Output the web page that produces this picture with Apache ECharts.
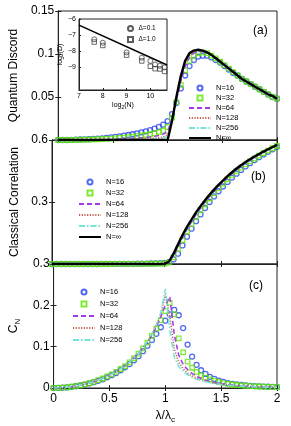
<!DOCTYPE html>
<html><head><meta charset="utf-8">
<script src="https://cdn.jsdelivr.net/npm/echarts@6/dist/echarts.min.js"></script>
<style>html,body{margin:0;padding:0;background:#fff}#c{width:291px;height:426px}</style>
</head><body><div id="c"></div>
<script>
// shared abscissa lambda/lambda_c
const lam = [0,0.04,0.08,0.12,0.16,0.2,0.24,0.28,0.32,0.36,0.4,0.44,0.48,0.52,0.56,0.6,0.64,0.68,0.72,0.76,0.8,0.84,0.88,0.92,0.96,1.0,1.04,1.08,1.12,1.16,1.2,1.24,1.28,1.32,1.36,1.4,1.44,1.48,1.52,1.56,1.6,1.64,1.68,1.72,1.76,1.8,1.84,1.88,1.92,1.96,2.0];
const names = ['N=16','N=32','N=64','N=128','N=256','N=\u221e'];

// (a) quantum discord
const qd16 = [0,0,0,0.0002,0.0004,0.0006,0.0008,0.001,0.0013,0.0016,0.002,0.0025,0.003,0.0036,0.0043,0.005,0.0058,0.0067,0.0077,0.0088,0.01,0.0115,0.0132,0.0152,0.0178,0.022,0.03,0.043,0.06,0.075,0.086,0.093,0.097,0.098,0.098,0.096,0.093,0.09,0.086,0.082,0.078,0.075,0.071,0.068,0.065,0.062,0.059,0.056,0.053,0.05,0.048];
const qd32 = [0,0,0,0,0.0002,0.0003,0.0004,0.0005,0.0007,0.0009,0.0011,0.0014,0.0017,0.002,0.0024,0.0028,0.0033,0.0038,0.0044,0.005,0.0058,0.0067,0.0078,0.0092,0.011,0.015,0.026,0.044,0.064,0.081,0.092,0.098,0.101,0.102,0.101,0.098,0.095,0.091,0.087,0.083,0.079,0.075,0.071,0.068,0.065,0.062,0.059,0.056,0.053,0.05,0.048];
const qd64 = [0,0,0,0,0,0.0001,0.0002,0.0002,0.0003,0.0004,0.0005,0.0006,0.0008,0.001,0.0012,0.0014,0.0016,0.0019,0.0022,0.0026,0.003,0.0035,0.0042,0.0052,0.0068,0.01,0.024,0.046,0.068,0.086,0.096,0.101,0.103,0.103,0.102,0.099,0.095,0.091,0.087,0.083,0.079,0.075,0.071,0.068,0.065,0.062,0.059,0.056,0.053,0.051,0.048];
const qd128 = [0,0,0,0,0,0,0.0001,0.0001,0.0001,0.0002,0.0002,0.0003,0.0004,0.0005,0.0006,0.0007,0.0008,0.0009,0.0011,0.0013,0.0015,0.0018,0.0021,0.0026,0.0036,0.0065,0.023,0.048,0.071,0.089,0.098,0.103,0.104,0.104,0.102,0.099,0.095,0.091,0.087,0.083,0.079,0.075,0.071,0.068,0.065,0.062,0.059,0.056,0.053,0.051,0.048];
const qd256 = [0,0,0,0,0,0,0,0,0,0.0001,0.0001,0.0001,0.0002,0.0002,0.0003,0.0003,0.0004,0.0005,0.0005,0.0006,0.0007,0.0009,0.0011,0.0013,0.0019,0.0042,0.022,0.049,0.073,0.091,0.1,0.104,0.105,0.104,0.102,0.099,0.095,0.091,0.087,0.083,0.079,0.075,0.071,0.068,0.065,0.062,0.059,0.056,0.053,0.051,0.048];
const qdInf = [0,0,0,0,0,0,0,0,0,0,0,0,0,0,0,0,0,0,0,0,0,0,0,0,0,0,0.022,0.05,0.074,0.092,0.101,0.104,0.105,0.104,0.102,0.099,0.095,0.091,0.087,0.083,0.079,0.075,0.071,0.068,0.065,0.062,0.059,0.056,0.053,0.051,0.048];

// (b) classical correlation
const cc16 = [0,0,0,0,0,0,0,0,0,0.0001,0.0001,0.0002,0.0002,0.0003,0.0004,0.0005,0.0006,0.0008,0.001,0.0012,0.0015,0.0019,0.0024,0.003,0.0039,0.005,0.009,0.022,0.05,0.09,0.132,0.171,0.207,0.24,0.271,0.3,0.327,0.352,0.375,0.397,0.418,0.437,0.455,0.472,0.488,0.503,0.517,0.53,0.543,0.555,0.567];
const cc32 = [0,0,0,0,0,0,0,0,0,0,0,0.0001,0.0001,0.0001,0.0002,0.0002,0.0003,0.0004,0.0005,0.0006,0.0007,0.0009,0.0011,0.0014,0.0018,0.0025,0.008,0.032,0.072,0.115,0.156,0.193,0.228,0.26,0.289,0.317,0.343,0.367,0.389,0.41,0.43,0.449,0.466,0.482,0.497,0.511,0.524,0.537,0.549,0.56,0.571];
const cc64 = [0,0,0,0,0,0,0,0,0,0,0,0,0,0.0001,0.0001,0.0001,0.0002,0.0002,0.0002,0.0003,0.0004,0.0005,0.0006,0.0007,0.001,0.0015,0.009,0.04,0.083,0.127,0.168,0.204,0.239,0.27,0.298,0.326,0.351,0.375,0.397,0.418,0.437,0.455,0.472,0.488,0.502,0.516,0.528,0.54,0.552,0.563,0.574];
const cc128 = [0,0,0,0,0,0,0,0,0,0,0,0,0,0,0,0,0.0001,0.0001,0.0001,0.0002,0.0002,0.0002,0.0003,0.0004,0.0006,0.001,0.01,0.045,0.089,0.134,0.174,0.21,0.245,0.275,0.303,0.331,0.356,0.379,0.401,0.422,0.441,0.459,0.475,0.491,0.505,0.518,0.53,0.542,0.554,0.565,0.575];
const cc256 = [0,0,0,0,0,0,0,0,0,0,0,0,0,0,0,0,0,0,0.0001,0.0001,0.0001,0.0001,0.0002,0.0002,0.0003,0.0008,0.011,0.048,0.092,0.137,0.177,0.213,0.248,0.278,0.306,0.333,0.358,0.381,0.403,0.424,0.443,0.461,0.477,0.492,0.506,0.519,0.531,0.543,0.555,0.566,0.576];
const ccInf = [0,0,0,0,0,0,0,0,0,0,0,0,0,0,0,0,0,0,0,0,0,0,0,0,0,0,0.012,0.05,0.095,0.14,0.18,0.215,0.25,0.28,0.308,0.335,0.36,0.383,0.404,0.425,0.444,0.462,0.478,0.493,0.507,0.52,0.532,0.544,0.555,0.566,0.576];

// (c) rescaled concurrence C_N
const cn16 = [0,0.0002,0.0006,0.0014,0.0028,0.0042,0.006,0.0083,0.011,0.014,0.0175,0.021,0.026,0.031,0.036,0.043,0.05,0.058,0.067,0.077,0.089,0.102,0.116,0.131,0.147,0.163,0.178,0.189,0.176,0.145,0.105,0.076,0.056,0.043,0.034,0.027,0.022,0.018,0.015,0.012,0.01,0.0085,0.0072,0.0062,0.0053,0.0046,0.004,0.0035,0.003,0.0026,0.0023];
const cn32 = [0,0.0002,0.0007,0.0015,0.003,0.0045,0.0065,0.009,0.012,0.015,0.019,0.023,0.028,0.033,0.039,0.046,0.053,0.062,0.072,0.083,0.096,0.11,0.126,0.144,0.164,0.186,0.206,0.178,0.12,0.086,0.064,0.049,0.039,0.031,0.025,0.021,0.017,0.014,0.012,0.01,0.0085,0.0073,0.0063,0.0054,0.0047,0.0041,0.0036,0.0032,0.0028,0.0025,0.0022];
const cn64 = [0,0.0002,0.0007,0.0015,0.003,0.0046,0.0066,0.0091,0.0121,0.0152,0.0192,0.0233,0.0283,0.0334,0.0395,0.0466,0.0537,0.0628,0.073,0.0841,0.097,0.111,0.128,0.148,0.172,0.2,0.221,0.13,0.08,0.057,0.044,0.035,0.028,0.023,0.019,0.016,0.013,0.011,0.0095,0.008,0.007,0.006,0.0052,0.0045,0.004,0.0035,0.0031,0.0027,0.0024,0.0021,0.0019];
const cn128 = [0,0.0002,0.0007,0.0015,0.003,0.0046,0.0066,0.0092,0.0122,0.0153,0.0193,0.0235,0.0285,0.0336,0.0397,0.0468,0.054,0.0631,0.0733,0.0845,0.098,0.112,0.13,0.151,0.178,0.226,0.175,0.095,0.062,0.046,0.036,0.029,0.024,0.02,0.016,0.014,0.012,0.01,0.0085,0.0073,0.0063,0.0055,0.0048,0.0042,0.0037,0.0032,0.0028,0.0025,0.0022,0.002,0.0018];
const cn256 = [0,0.0002,0.0007,0.0015,0.003,0.0046,0.0066,0.0092,0.0122,0.0154,0.0194,0.0236,0.0286,0.0337,0.0398,0.047,0.0542,0.0633,0.0736,0.0848,0.098,0.113,0.131,0.153,0.182,0.24,0.14,0.075,0.052,0.04,0.032,0.026,0.021,0.018,0.015,0.013,0.011,0.0093,0.008,0.0069,0.006,0.0052,0.0046,0.004,0.0035,0.0031,0.0027,0.0024,0.0021,0.0019,0.0017];

// inset: log2(D) vs log2(N)
const insetLogN = [7.64,8.0,9.0,9.64,10.0,10.2,10.4,10.6];
const insetD01 = [-7.26,-7.47,-8.07,-8.4,-8.6,-8.82,-8.9,-9.0];
const insetD10 = [-7.43,-7.64,-8.24,-8.6,-8.93,-9.08,-9.1,-9.25];
const fitLogN = [7,10.7];
const fitLogD = [-6.38,-8.85];

const insetXTicks = [7,8,9,10];
const insetYTicks = [-9,-8,-7,-6];

const FONT = "'Liberation Sans', Arial, sans-serif";
const colBlue = '#2742f2', colGreen = '#5ee600', colPurple = '#a23be6', colBrown = '#c2604c', colCyan = '#6fe6d6';

const pair = arr => lam.map((x,i)=>[x, arr[i]]);

const grids = [
  {left:52, top:11, width:225, height:129},
  {left:52, top:140, width:225, height:124},
  {left:52, top:264, width:225, height:124},
  {left:79, top:19, width:88, height:71, backgroundColor:'#fff'}
];
grids.forEach(g=>{g.show=true; g.borderColor='#222'; g.borderWidth=1; if(!g.backgroundColor) g.backgroundColor='transparent';});

const axLine = {show:true, lineStyle:{color:'#222', width:1}};
const tick = {show:true, inside:true, length:3, lineStyle:{color:'#222'}};

const xAxis = [];
const yAxis = [];
const yRanges = [[0,0.15,0.05],[0,0.6,0.3],[0,0.3,0.1]];
const yNames = ['Quantum Discord','Classical Correlation','C{sub|N}'];
for (let k=0;k<3;k++){
  xAxis.push({type:'value', gridIndex:k, min:0, max:2, interval:0.5, position:'bottom',
    axisLine:axLine, axisTick:tick, splitLine:{show:false},
    axisLabel:{show:k===2, fontSize:12, color:'#000', fontFamily:FONT, margin:5},
    name: k===2 ? '\u03bb/\u03bb{sub|c}' : '', nameLocation:'middle', nameGap:20,
    nameTextStyle:{fontSize:12, color:'#000', fontFamily:FONT, rich:{sub:{fontSize:8, verticalAlign:'bottom', padding:[8,0,0,0], fontFamily:FONT}}}
  });
}
for (let k=0;k<3;k++){
  xAxis.push({type:'value', gridIndex:k, min:0, max:2, interval:0.5, position:'top',
    axisLine:axLine, axisTick:tick, axisLabel:{show:false}, splitLine:{show:false}});
}
xAxis.push({type:'value', gridIndex:3, min:7, max:10.7, position:'bottom',
  axisLine:axLine, axisTick:{show:true, inside:true, length:2, customValues:insetXTicks, lineStyle:{color:'#222'}},
  axisLabel:{fontSize:7, color:'#000', fontFamily:FONT, margin:3, customValues:insetXTicks},
  splitLine:{show:false},
  name:'log{sub|2}(N)', nameLocation:'middle', nameGap:11,
  nameTextStyle:{fontSize:7, color:'#000', fontFamily:FONT, rich:{sub:{fontSize:5, padding:[4,0,0,0], fontFamily:FONT}}}
});
for (let k=0;k<3;k++){
  const r = yRanges[k];
  yAxis.push({type:'value', gridIndex:k, min:r[0], max:r[1], interval:r[2], position:'left',
    axisLine:axLine, axisTick:tick, splitLine:{show:false},
    axisLabel:{fontSize:12, color:'#000', fontFamily:FONT, margin:4, showMinLabel:k===2},
    name:yNames[k], nameLocation:'middle', nameGap: k===0 ? 28 : 24,
    nameTextStyle:{fontSize:12, color:'#000', fontFamily:FONT, rich:{sub:{fontSize:8, padding:[8,0,0,0], fontFamily:FONT}}}
  });
}
for (let k=0;k<3;k++){
  const r = yRanges[k];
  yAxis.push({type:'value', gridIndex:k, min:r[0], max:r[1], interval:r[2], position:'right',
    axisLine:axLine, axisTick:tick, axisLabel:{show:false}, splitLine:{show:false}});
}
yAxis.push({type:'value', gridIndex:3, min:-10.4, max:-6, position:'left',
  axisLine:axLine, axisTick:{show:true, inside:true, length:2, customValues:insetYTicks, lineStyle:{color:'#222'}},
  axisLabel:{fontSize:7, color:'#000', fontFamily:FONT, margin:3, customValues:insetYTicks, formatter:v=>String(v).replace('-','\u2212')},
  splitLine:{show:false},
  name:'log{sub|2}(D)', nameLocation:'middle', nameGap:14,
  nameTextStyle:{fontSize:7, color:'#000', fontFamily:FONT, rich:{sub:{fontSize:5, padding:[4,0,0,0], fontFamily:FONT}}}
});

const series = [];
const sets = [
  [qd16,qd32,qd64,qd128,qd256,qdInf],
  [cc16,cc32,cc64,cc128,cc256,ccInf],
  [cn16,cn32,cn64,cn128,cn256,null]
];
for (let k=0;k<3;k++){
  const s = sets[k];
  series.push({type:'scatter', name:names[0], xAxisIndex:k, yAxisIndex:k, data:pair(s[0]), symbol:'circle', symbolSize:5,
    itemStyle:{color:'rgba(0,0,0,0)', borderColor:colBlue, borderWidth:1.3}, z:2});
  series.push({type:'scatter', name:names[1], xAxisIndex:k, yAxisIndex:k, data:pair(s[1]), symbol:'rect', symbolSize:4.5,
    itemStyle:{color:'rgba(0,0,0,0)', borderColor:colGreen, borderWidth:1.3}, z:3});
  series.push({type:'line', name:names[2], xAxisIndex:k, yAxisIndex:k, data:pair(s[2]), symbol:'none', showSymbol:false,
    lineStyle:{color:colPurple, width:1.5, type:[5,3]}, itemStyle:{color:colPurple}, z:4});
  series.push({type:'line', name:names[3], xAxisIndex:k, yAxisIndex:k, data:pair(s[3]), symbol:'none', showSymbol:false,
    lineStyle:{color:colBrown, width:1.5, type:[1.2,1.5]}, itemStyle:{color:colBrown}, z:5});
  series.push({type:'line', name:names[4], xAxisIndex:k, yAxisIndex:k, data:pair(s[4]), symbol:'none', showSymbol:false,
    lineStyle:{color:colCyan, width:1.5, type:[6,2,1.5,2]}, itemStyle:{color:colCyan}, z:6});
  if (s[5]) series.push({type:'line', name:names[5], xAxisIndex:k, yAxisIndex:k, data:pair(s[5]), symbol:'none', showSymbol:false,
    lineStyle:{color:'#000', width:2.4}, itemStyle:{color:'#000'}, z:7});
}
series.push({type:'line', name:'fit', xAxisIndex:6, yAxisIndex:6, data:fitLogN.map((x,i)=>[x,fitLogD[i]]), symbol:'none',
  lineStyle:{color:'#000', width:1.6}, z:8});
series.push({type:'scatter', name:'\u0394=0.1', xAxisIndex:6, yAxisIndex:6, data:insetLogN.map((x,i)=>[x,insetD01[i]]), symbol:'circle', symbolSize:5,
  itemStyle:{color:'rgba(0,0,0,0)', borderColor:'#333', borderWidth:0.9}, z:9});
series.push({type:'scatter', name:'\u0394=1.0', xAxisIndex:6, yAxisIndex:6, data:insetLogN.map((x,i)=>[x,insetD10[i]]), symbol:'rect', symbolSize:4.5,
  itemStyle:{color:'rgba(0,0,0,0)', borderColor:'#333', borderWidth:0.9}, z:9});

const legItems = n => names.slice(0,n).map((nm,i)=> i<2
  ? {name:nm, icon: i===0 ? 'circle' : 'path://M0,0L10,0L10,10L0,10Z', symbolKeepAspect:true}
  : {name:nm, itemStyle:{opacity:0, color:'rgba(0,0,0,0)', borderColor:'rgba(0,0,0,0)', borderWidth:0}});
const legBase = {orient:'vertical', selectedMode:false, padding:0, itemWidth:22, itemHeight:5, symbolKeepAspect:true,
  textStyle:{fontSize:7.5, color:'#000', fontFamily:FONT}};
const legend = [
  Object.assign({}, legBase, {data:legItems(6), left:188, top:84, itemGap:2}),
  Object.assign({}, legBase, {data:legItems(6), left:78, top:178, itemGap:3}),
  Object.assign({}, legBase, {data:legItems(5), left:72, top:288, itemGap:4}),
  Object.assign({}, legBase, {data:[{name:'\u0394=0.1', icon:'circle'},{name:'\u0394=1.0', icon:'path://M0,0L10,0L10,10L0,10Z'}],
    left:127, top:25, itemGap:4, itemWidth:6, itemHeight:5, textStyle:{fontSize:6.5, color:'#000', fontFamily:FONT}})
];

const chart = echarts.init(document.getElementById('c'), null, {renderer:'canvas'});
chart.setOption({
  animation:false,
  backgroundColor:'#fff',
  textStyle:{fontFamily:FONT},
  grid:grids, xAxis, yAxis, series, legend,
  graphic:[
    {type:'text', left:253, top:25, style:{text:'(a)', font:'12px '+FONT, fill:'#000'}},
    {type:'text', left:251, top:171, style:{text:'(b)', font:'12px '+FONT, fill:'#000'}},
    {type:'text', left:249, top:280, style:{text:'(c)', font:'12px '+FONT, fill:'#000'}}
  ]
});
</script></body></html>
